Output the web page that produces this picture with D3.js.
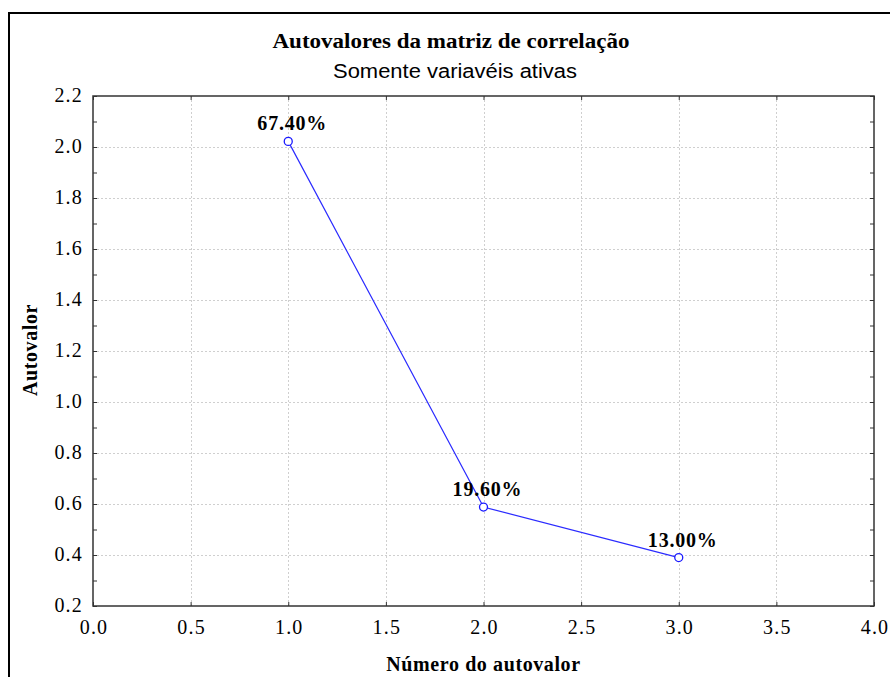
<!DOCTYPE html>
<html><head><meta charset="utf-8">
<script src="https://cdn.jsdelivr.net/npm/d3@7"></script>
<style>body{margin:0;background:#fff}svg{display:block}</style>
</head><body>
<svg id="c" width="890" height="677"></svg>
<script>
const titleText = "Autovalores da matriz de correlação";
const subtitleText = "Somente variavéis ativas";
const xLabel = "Número do autovalor";
const yLabel = "Autovalor";
const eigenNumbers = [1, 2, 3];
const eigenValues = [2.022, 0.588, 0.390];
const pctLabels = ["67.40%", "19.60%", "13.00%"];
const xTicks = [0, 0.5, 1, 1.5, 2, 2.5, 3, 3.5, 4];
const yTicks = [0.2, 0.4, 0.6, 0.8, 1.0, 1.2, 1.4, 1.6, 1.8, 2.0, 2.2];
const yMinorTicks = [0.3, 0.5, 0.7, 0.9, 1.1, 1.3, 1.5, 1.7, 1.9, 2.1];

const svg = d3.select("#c");
const L = 93, R = 874, T = 96, B = 606;
const x = d3.scaleLinear().domain([0, 4]).range([L, R]);
const y = d3.scaleLinear().domain([0.2, 2.2]).range([B, T]);
const serif = "'Liberation Serif','Times New Roman',serif";
const sans = "'Liberation Sans',Arial,sans-serif";

// outer frame
svg.append("path").attr("d", "M9,677 L9,13 L890,13")
  .attr("fill", "none").attr("stroke", "#000").attr("stroke-width", 2);

// titles
svg.append("text").attr("x", 451).attr("y", 48).attr("text-anchor", "middle")
  .attr("font-family", serif).attr("font-weight", "bold").attr("font-size", 20)
  .attr("textLength", 357).attr("lengthAdjust", "spacingAndGlyphs").text(titleText);
svg.append("text").attr("x", 455).attr("y", 78).attr("text-anchor", "middle")
  .attr("font-family", sans).attr("font-size", 20)
  .attr("textLength", 244).attr("lengthAdjust", "spacingAndGlyphs").text(subtitleText);

// grid
const grid = svg.append("g").attr("stroke", "#cfcfcf").attr("stroke-width", 1).attr("stroke-dasharray", "2,2");
grid.selectAll(".gx").data(xTicks.filter(d => d > 0 && d < 4)).enter().append("line")
  .attr("x1", d => Math.round(x(d)) + 0.5).attr("x2", d => Math.round(x(d)) + 0.5)
  .attr("y1", T).attr("y2", B);
grid.selectAll(".gy").data(yTicks.filter(d => d > 0.21 && d < 2.19)).enter().append("line")
  .attr("y1", d => Math.round(y(d)) + 0.5).attr("y2", d => Math.round(y(d)) + 0.5)
  .attr("x1", L).attr("x2", R);

// axes (inward ticks)
const tickStyle = g => { g.select(".domain").remove(); g.selectAll("line").attr("stroke", "#333"); g.selectAll("text").remove(); };
svg.append("g").attr("transform", `translate(0,${B})`)
  .call(d3.axisTop(x).tickValues(xTicks).tickSize(4)).call(tickStyle);
svg.append("g").attr("transform", `translate(0,${T})`)
  .call(d3.axisBottom(x).tickValues(xTicks).tickSize(4)).call(tickStyle);
svg.append("g").attr("transform", `translate(${L},0)`)
  .call(d3.axisRight(y).tickValues(yTicks.concat(yMinorTicks)).tickSize(4)).call(tickStyle);
svg.append("g").attr("transform", `translate(${R},0)`)
  .call(d3.axisLeft(y).tickValues(yTicks.concat(yMinorTicks)).tickSize(4)).call(tickStyle);

// plot frame
svg.append("rect").attr("x", L).attr("y", T).attr("width", R - L).attr("height", B - T)
  .attr("fill", "none").attr("stroke", "#333").attr("stroke-width", 1.5);

// tick labels
svg.selectAll(".xl").data(xTicks).enter().append("text")
  .attr("x", d => x(d) + 1).attr("y", 634).attr("text-anchor", "middle")
  .attr("font-family", serif).attr("font-size", 20).attr("letter-spacing", 1.2)
  .attr("fill", "#000").text(d => d3.format(".1f")(d));
svg.selectAll(".yl").data(yTicks).enter().append("text")
  .attr("x", 83).attr("y", d => y(d) + 6).attr("text-anchor", "end")
  .attr("font-family", serif).attr("font-size", 20).attr("letter-spacing", 1.2)
  .attr("fill", "#000").text(d => d3.format(".1f")(d));

// axis titles
svg.append("text").attr("x", (L + R) / 2).attr("y", 671).attr("text-anchor", "middle")
  .attr("font-family", serif).attr("font-weight", "bold").attr("font-size", 20)
  .attr("letter-spacing", 0.6).text(xLabel);
svg.append("text").attr("transform", "translate(37,350) rotate(-90)").attr("text-anchor", "middle")
  .attr("font-family", serif).attr("font-weight", "bold").attr("font-size", 20)
  .attr("letter-spacing", 0.6).text(yLabel);

// line + markers
const pts = eigenNumbers.map((n, i) => ({ n, v: eigenValues[i], p: pctLabels[i] }));
svg.append("path").datum(pts)
  .attr("d", d3.line().x(d => x(d.n)).y(d => y(d.v)))
  .attr("fill", "none").attr("stroke", "#2b2bff").attr("stroke-width", 1.2);
svg.selectAll(".pt").data(pts).enter().append("circle")
  .attr("cx", d => x(d.n)).attr("cy", d => y(d.v)).attr("r", 4)
  .attr("fill", "#fff").attr("stroke", "#1a1aff").attr("stroke-width", 1.3);
svg.selectAll(".pl").data(pts).enter().append("text")
  .attr("x", d => x(d.n) + 4).attr("y", d => y(d.v) - 11).attr("text-anchor", "middle")
  .attr("font-family", serif).attr("font-weight", "bold").attr("font-size", 20)
  .attr("letter-spacing", 0.8).attr("fill", "#000").text(d => d.p);
</script>
</body></html>
